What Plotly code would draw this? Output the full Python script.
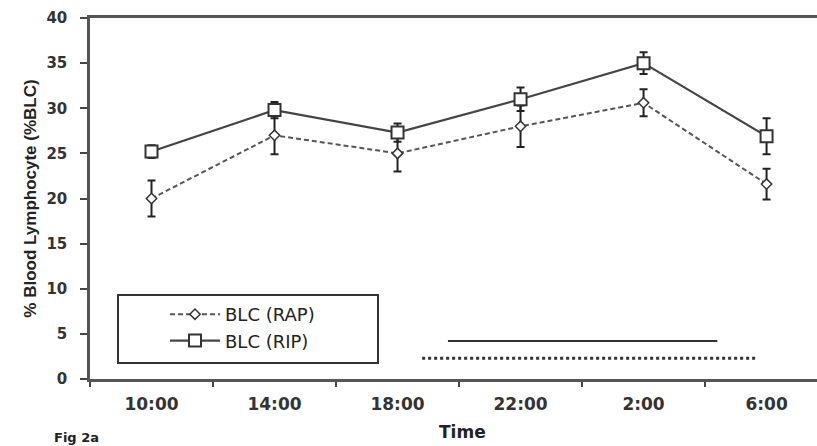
import plotly.graph_objects as go

# ---- data ----
times = ["10:00", "14:00", "18:00", "22:00", "2:00", "6:00"]
rap_values = [20.0, 27.0, 25.0, 28.0, 30.6, 21.6]
rap_errors = [2.0, 2.1, 2.0, 2.3, 1.5, 1.7]
rip_values = [25.2, 29.8, 27.3, 31.0, 35.0, 26.9]
rip_errors = [0.7, 0.9, 1.0, 1.3, 1.2, 2.0]
series_names = ["BLC (RAP)", "BLC (RIP)"]
y_ticks = [0, 5, 10, 15, 20, 25, 30, 35, 40]
# horizontal period bars: [start (category index), end, level]
period_solid = [2.41, 4.60, 4.2]
period_dotted = [2.20, 4.93, 2.3]

W, H = 817, 446
ML, MR, MT, MB = 90, 0, 18, 67
PW = W - ML - MR
PH = H - MT - MB


def px_to_paper_x(px):
    return (px - ML) / PW


def px_to_paper_y(py):
    return (H - MB - py) / PH


fig = go.Figure()

fig.add_trace(go.Scatter(
    x=times, y=rap_values, name=series_names[0], mode="lines+markers",
    line=dict(color="#555555", width=2, dash="5px,3px"),
    marker=dict(symbol="diamond", size=8, color="white",
                line=dict(color="#333333", width=1.5)),
    error_y=dict(type="data", array=rap_errors, visible=True,
                 color="#222222", thickness=2, width=4),
    legendgroup="a",
))
fig.add_trace(go.Scatter(
    x=times, y=rip_values, name=series_names[1], mode="lines+markers",
    line=dict(color="#444444", width=2.2),
    marker=dict(symbol="square", size=12, color="white",
                line=dict(color="#333333", width=2)),
    error_y=dict(type="data", array=rip_errors, visible=True,
                 color="#222222", thickness=2, width=4),
    legendgroup="b",
))

# period bars
fig.add_shape(type="line", xref="x", yref="y",
              x0=period_solid[0], x1=period_solid[1],
              y0=period_solid[2], y1=period_solid[2],
              line=dict(color="#333333", width=2))
fig.add_shape(type="line", xref="x", yref="y",
              x0=period_dotted[0], x1=period_dotted[1],
              y0=period_dotted[2], y1=period_dotted[2],
              line=dict(color="#333333", width=3, dash="dot"))

# legend box
fig.add_shape(type="rect", xref="paper", yref="paper",
              x0=px_to_paper_x(118), x1=px_to_paper_x(378),
              y0=px_to_paper_y(363), y1=px_to_paper_y(295),
              line=dict(color="#333333", width=2), fillcolor="white", layer="below")

fig.add_annotation(text="<b>Time</b>", xref="paper", yref="paper",
                   x=px_to_paper_x(463), y=px_to_paper_y(432),
                   xanchor="center", yanchor="middle", showarrow=False,
                   font=dict(family="DejaVu Sans", size=17, color="#222222"))
fig.add_annotation(text="<b>Fig 2a</b>", xref="paper", yref="paper",
                   x=px_to_paper_x(52), y=px_to_paper_y(437),
                   xanchor="left", yanchor="middle", showarrow=False,
                   font=dict(family="DejaVu Sans", size=13, color="#222222"))

fig.update_layout(
    width=W, height=H,
    margin=dict(l=ML, r=MR, t=MT, b=MB, autoexpand=False),
    plot_bgcolor="white", paper_bgcolor="white",
    showlegend=True,
    legend=dict(x=px_to_paper_x(165), y=px_to_paper_y(296),
                xanchor="left", yanchor="top",
                bgcolor="rgba(0,0,0,0)", borderwidth=0,
                font=dict(family="DejaVu Sans", size=18, color="#222222"),
                itemwidth=50, tracegroupgap=14, traceorder="normal"),
    xaxis=dict(type="category", categoryorder="array", categoryarray=times,
               range=[-0.5, 5.41], tickson="boundaries",
               ticks="outside", ticklen=5, tickwidth=2, tickcolor="#444444",
               showline=True, linewidth=2.5, linecolor="#555555", mirror=True,
               showgrid=False, zeroline=False,
               tickfont=dict(family="DejaVu Sans", size=17, color="#333333", weight="bold"),
               ticklabelstandoff=8),
    yaxis=dict(range=[0, 40], tickvals=y_ticks,
               ticks="outside", ticklen=7, tickwidth=2, tickcolor="#444444",
               showline=True, linewidth=2.5, linecolor="#555555",
               showgrid=False, zeroline=False,
               tickfont=dict(family="DejaVu Sans", size=15, color="#333333", weight="bold"),
               ticklabelstandoff=10,
               title=dict(text="% Blood Lymphocyte (%BLC)", standoff=6,
                          font=dict(family="Liberation Sans", size=17, color="#222222", weight="bold"))),
)

fig.write_html("out.html")
